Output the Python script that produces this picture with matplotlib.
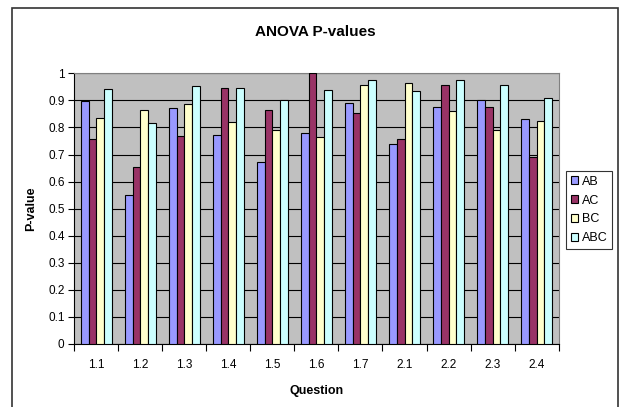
import matplotlib
matplotlib.use("Agg")
import matplotlib.pyplot as plt
import numpy as np
from matplotlib.patches import Rectangle

plt.rcParams["font.family"] = ["Liberation Sans", "DejaVu Sans"]

questions = ["1.1", "1.2", "1.3", "1.4", "1.5", "1.6", "1.7", "2.1", "2.2", "2.3", "2.4"]
series_names = ["AB", "AC", "BC", "ABC"]
ab = [0.899, 0.552, 0.873, 0.773, 0.674, 0.781, 0.892, 0.740, 0.877, 0.903, 0.833]
ac = [0.759, 0.655, 0.770, 0.947, 0.866, 1.000, 0.855, 0.759, 0.958, 0.877, 0.692]
bc = [0.836, 0.863, 0.887, 0.821, 0.792, 0.765, 0.958, 0.966, 0.862, 0.792, 0.825]
abc = [0.943, 0.818, 0.954, 0.947, 0.903, 0.940, 0.975, 0.936, 0.975, 0.958, 0.910]
colors = ["#9999FF", "#993366", "#FFFFCC", "#CCFFFF"]

fig = plt.figure(figsize=(6.2, 4.07), dpi=100)
ax = fig.add_axes([0.1198, 0.1548, 0.7812, 0.6651])
ax.set_facecolor("#C0C0C0")

x = np.arange(len(questions))
w = 0.175
for i, (vals, name) in enumerate(zip([ab, ac, bc, abc], series_names)):
    ax.bar(x + (i - 1.5) * w, vals, width=w, color=colors[i], edgecolor="black",
           linewidth=0.8, label=name, zorder=3)

ax.set_xlim(-0.5, len(questions) - 0.5)
ax.set_ylim(0, 1)
ax.set_yticks(np.arange(0, 1.01, 0.1))
ax.set_yticklabels(["0", "0.1", "0.2", "0.3", "0.4", "0.5", "0.6", "0.7", "0.8", "0.9", "1"])
ax.yaxis.grid(True, color="black", linewidth=0.8, zorder=1)
ax.set_axisbelow(True)

# group labels centred, ticks between groups
ax.set_xticks(x)
ax.set_xticklabels(questions)
ax.tick_params(axis="x", which="major", length=0, pad=11, labelsize=8.5)
ax.set_xticks(np.arange(-0.5, len(questions), 1.0), minor=True)
ax.tick_params(axis="x", which="minor", length=5, width=0.8, direction="out")
ax.tick_params(axis="y", length=4, width=0.8, labelsize=8.5, pad=3)

for s in ["top", "right"]:
    ax.spines[s].set_color("#808080")
    ax.spines[s].set_linewidth(0.8)
for s in ["left", "bottom"]:
    ax.spines[s].set_color("black")
    ax.spines[s].set_linewidth(0.8)

ax.set_xlabel("Question", fontsize=9, fontweight="bold", labelpad=10)
ax.set_ylabel("P-value", fontsize=9, fontweight="bold", labelpad=8)
fig.text(0.508, 0.922, "ANOVA P-values", ha="center", va="center",
         fontsize=11, fontweight="bold")

leg = ax.legend(loc="center left", bbox_to_anchor=(1.016, 0.495), fontsize=9,
                frameon=True, fancybox=False, edgecolor="black",
                handlelength=0.6, handleheight=0.6, handletextpad=0.3,
                borderpad=0.35, labelspacing=0.55, borderaxespad=0)
leg.get_frame().set_linewidth(0.8)

# chart border
fig.patches.append(Rectangle((11.5 / 620, -0.05), 606.5 / 620, 1 - 7.5 / 407 + 0.05,
                             transform=fig.transFigure, fill=False,
                             edgecolor="#333333", linewidth=1.2))

fig.savefig("out.png", dpi=100)
